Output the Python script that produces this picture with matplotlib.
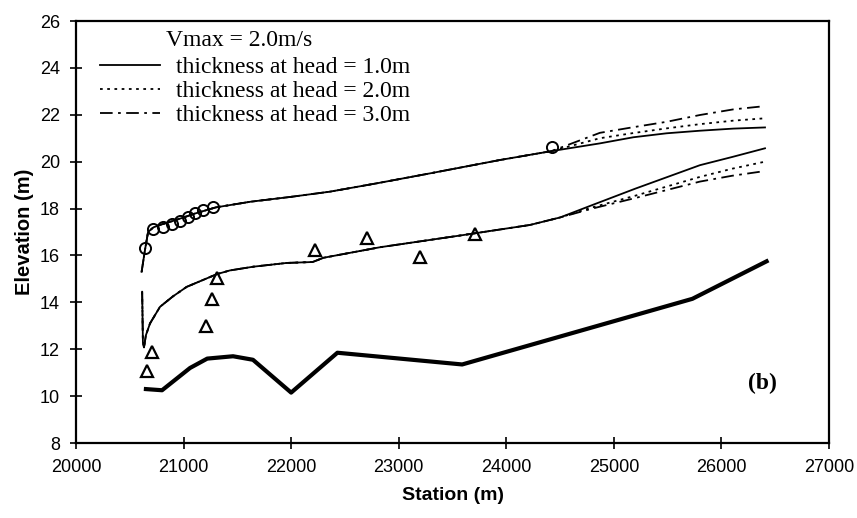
import matplotlib
matplotlib.use("Agg")
import matplotlib.pyplot as plt
import numpy as np

# ---------------- data ----------------
bed_x = [20650, 20800, 21060, 21220, 21460, 21645, 22000, 22430, 23590, 25730, 26420]
bed_y = [10.3, 10.25, 11.2, 11.6, 11.7, 11.55, 10.15, 11.85, 11.35, 14.15, 15.75]

# upper water-surface family (shared part)
up_common_x = [20610, 20640, 20670, 20720, 20800, 20900, 21000, 21100, 21300, 21620,
               22000, 22360, 22800, 23290, 23940, 24420]
up_common_y = [15.3, 16.2, 17.0, 17.2, 17.33, 17.47, 17.62, 17.78, 18.05, 18.29,
               18.5, 18.72, 19.08, 19.5, 20.07, 20.45]
up_tail_x = [24870, 25180, 25490, 25800, 26110, 26405]
up_solid_y = [20.78, 21.04, 21.21, 21.32, 21.41, 21.46]
up_dot_y = [21.0, 21.22, 21.42, 21.6, 21.75, 21.85]
up_dashdot_y = [21.23, 21.47, 21.70, 21.99, 22.23, 22.37]

# lower water-surface family (shared part)
lo_common_x = [20615, 20622, 20632, 20650, 20688, 20781, 20900, 21029, 21308, 21430,
               21648, 21958, 22200, 22300, 22826, 23600, 24220, 24500]
lo_common_y = [14.45, 12.3, 12.08, 12.6, 13.1, 13.81, 14.25, 14.66, 15.2, 15.36,
               15.52, 15.68, 15.72, 15.9, 16.35, 16.87, 17.3, 17.62]
lo_tail_x = [24800, 25200, 25500, 25800, 26100, 26405]
lo_solid_y = [18.15, 18.85, 19.35, 19.85, 20.2, 20.57]
lo_dot_y = [18.05, 18.55, 18.95, 19.35, 19.7, 20.0]
lo_dashdot_y = [18.0, 18.45, 18.8, 19.15, 19.4, 19.6]

circ_x = [20641, 20719, 20812, 20889, 20967, 21044, 21106, 21184, 21276, 24422]
circ_y = [16.30, 17.11, 17.22, 17.32, 17.47, 17.63, 17.80, 17.94, 18.08, 20.64]

tri_x = [20663, 20710, 21208, 21261, 21308, 22222, 22702, 23198, 23709]
tri_y = [11.05, 11.9, 13.0, 14.15, 15.05, 16.25, 16.75, 15.92, 16.9]

labels = ["thickness at head = 1.0m", "thickness at head = 2.0m", "thickness at head = 3.0m"]
legend_title = "Vmax = 2.0m/s"
xticks = [20000, 21000, 22000, 23000, 24000, 25000, 26000, 27000]
yticks = [8, 10, 12, 14, 16, 18, 20, 22, 24, 26]

# ---------------- plot ----------------
fig = plt.figure(figsize=(8.57, 5.18), dpi=100)
ax = fig.add_axes([76 / 857, 1 - 443 / 518, (829 - 76) / 857, (443 - 21) / 518])

lw = 1.3
styles = ["-", (0, (1.5, 2.5)), (0, (7, 3, 1.5, 3))]
up_tails = [up_solid_y, up_dot_y, up_dashdot_y]
lo_tails = [lo_solid_y, lo_dot_y, lo_dashdot_y]
for i in range(3):
    ax.plot(up_common_x + up_tail_x, up_common_y + up_tails[i], color="black",
            lw=lw, ls=styles[i], label=labels[i])
    ax.plot(lo_common_x + lo_tail_x, lo_common_y + lo_tails[i], color="black",
            lw=lw, ls=styles[i])

ax.plot(bed_x, bed_y, color="black", lw=3)
ax.plot(circ_x, circ_y, ls="none", marker="o", ms=8, mfc="none", mec="black", mew=1.4)
ax.plot(tri_x, tri_y, ls="none", marker="^", ms=8, mfc="none", mec="black", mew=1.6)

ax.set_xlim(20000, 27000)
ax.set_ylim(8, 26)
ax.set_xticks(xticks)
ax.set_yticks(yticks)
ax.tick_params(direction="inout", length=9, width=1.2, labelsize=13)
for lab in ax.get_xticklabels() + ax.get_yticklabels():
    lab.set_fontfamily("Liberation Sans")
ax.tick_params(axis="x", pad=7)
ax.tick_params(axis="y", pad=7)
for s in ax.spines.values():
    s.set_linewidth(1.6)

ax.set_xlabel("Station (m)", fontsize=14, fontweight="bold", family="Liberation Sans", labelpad=8)
ax.set_ylabel("Elevation (m)", fontsize=14.5, fontweight="bold", family="Liberation Sans", labelpad=4)

leg = ax.legend(loc="upper left", bbox_to_anchor=(0.0226, 0.933),
                frameon=False, handlelength=2.54, handletextpad=0.68, labelspacing=0.11,
                borderaxespad=0.0, borderpad=0.3,
                prop={"family": "Liberation Serif", "size": 17})
ax.text((166 - 76) / 753, (443 - 41) / 422, legend_title, transform=ax.transAxes,
        fontsize=17, family="Liberation Serif", ha="left", va="center")

ax.text(26380, 10.55, "(b)", fontsize=17, fontweight="bold", family="Liberation Serif",
        ha="center", va="center")

fig.savefig("out.png", dpi=100)
